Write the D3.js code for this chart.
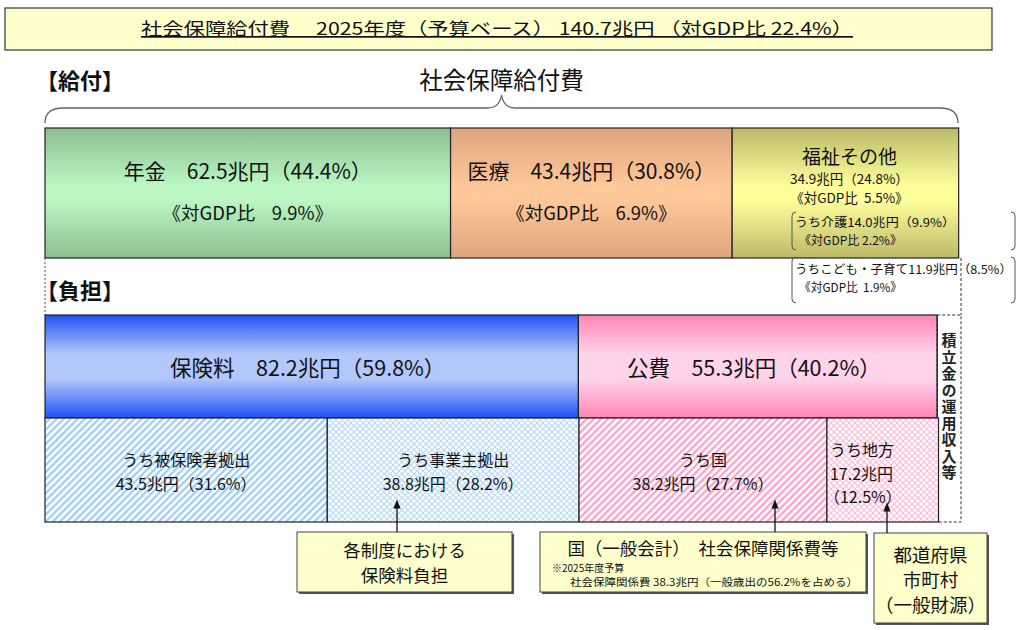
<!DOCTYPE html>
<html>
<head>
<meta charset="utf-8">
<script src="https://cdn.jsdelivr.net/npm/d3@7"></script>
<style>
  body { margin: 0; background: #fff; }
  svg { display: block; font-family: "Noto Sans CJK JP", "Noto Sans", sans-serif; }
</style>
</head>
<body>
<svg id="chart" width="1024" height="630"></svg>
<script>
// données
const total = 140.7;
const totalGdp = 22.4;

const benefitNames = ['年金', '医療', '福祉その他'];
const benefitValues = [62.5, 43.4, 34.9];
const benefitShares = [44.4, 30.8, 24.8];
const benefitGdp = [9.9, 6.9, 5.5];

const welfareSubNames = ['うち介護', 'うちこども・子育て'];
const welfareSubValues = [14.0, 11.9];
const welfareSubShares = [9.9, 8.5];
const welfareSubGdp = [2.2, 1.9];

const burdenNames = ['保険料', '公費'];
const burdenValues = [82.2, 55.3];
const burdenShares = [59.8, 40.2];

const subNames = ['うち被保険者拠出', 'うち事業主拠出', 'うち国', 'うち地方'];
const subValues = [43.5, 38.8, 38.2, 17.2];
const subShares = [31.6, 28.2, 27.7, 12.5];

const reserveLabel = '積立金の運用収入等';

const svg = d3.select('#chart');
const defs = svg.append('defs');

// échelle horizontale commune (兆円)
const x = d3.scaleLinear().domain([0, total]).range([45, 958]);

const SP = '\u3000';       // espace pleine largeur
const sp2 = '\u00a0\u00a0'; // petit espace

// cumuls
function cumul(values) {
  let acc = 0;
  return values.map(v => { const s = acc; acc += v; return { start: s, end: acc, value: v }; });
}

// dégradés verticaux
function gradient(id, edge, mid, a, b) {
  const g = defs.append('linearGradient').attr('id', id)
    .attr('x1', 0).attr('y1', 0).attr('x2', 0).attr('y2', 1);
  g.append('stop').attr('offset', 0).attr('stop-color', edge);
  g.append('stop').attr('offset', a).attr('stop-color', mid);
  g.append('stop').attr('offset', b).attr('stop-color', mid);
  g.append('stop').attr('offset', 1).attr('stop-color', edge);
}
gradient('gNenkin', '#8dbd92', '#bbf8c4', 0.45, 0.55);
gradient('gIryo', '#dca57e', '#ffc899', 0.45, 0.55);
gradient('gFukushi', '#bdb968', '#ffff9c', 0.45, 0.55);
gradient('gHoken', '#1f52f4', '#b3c7fb', 0.38, 0.62);
gradient('gKouhi', '#ff85b8', '#ffd3ea', 0.38, 0.62);

// motifs
function stripes(id, color) {
  const p = defs.append('pattern').attr('id', id)
    .attr('width', 5).attr('height', 5)
    .attr('patternUnits', 'userSpaceOnUse')
    .attr('patternTransform', 'rotate(45)');
  p.append('rect').attr('width', 5).attr('height', 5).attr('fill', '#fff');
  p.append('rect').attr('width', 2.3).attr('height', 5).attr('fill', color);
}
function cross(id, color) {
  const p = defs.append('pattern').attr('id', id)
    .attr('width', 6).attr('height', 6)
    .attr('patternUnits', 'userSpaceOnUse');
  p.append('rect').attr('width', 6).attr('height', 6).attr('fill', '#fff');
  p.append('path').attr('d', 'M0,0L6,6M6,0L0,6M-3,3L3,9M3,-3L9,3M-3,3L3,-3M3,9L9,3')
    .attr('stroke', color).attr('stroke-width', 1.1).attr('fill', 'none');
}
stripes('pStripeBlue', '#9dcdfb');
cross('pCrossBlue', '#b4d8fb');
stripes('pStripePink', '#ff9fca');
cross('pCrossPink', '#ffb8d8');

defs.append('marker').attr('id', 'arrow')
  .attr('viewBox', '0 0 10 10').attr('refX', 5).attr('refY', 5)
  .attr('markerWidth', 7).attr('markerHeight', 7).attr('orient', 'auto-start-reverse')
  .append('path').attr('d', 'M0,1L10,5L0,9Z').attr('fill', '#111');

const pct = v => v.toFixed(1);

// titre
svg.append('rect').attr('x', 5).attr('y', 8).attr('width', 987).attr('height', 42)
  .attr('fill', '#ffffcc').attr('stroke', '#333').attr('stroke-width', 1.2);
svg.append('text').attr('x', 497).attr('y', 35).attr('text-anchor', 'middle')
  .attr('font-size', 17).attr('text-decoration', 'underline').attr('fill', '#111')
  .attr('textLength', 712).attr('lengthAdjust', 'spacingAndGlyphs')
  .text('社会保障給付費　 2025年度（予算ベース） 140.7兆円 （対GDP比 ' + pct(totalGdp) + '%）');

// 【給付】
svg.append('text').attr('x', 45).attr('y', 89).attr('font-size', 22).attr('font-weight', 'bold')
  .attr('fill', '#111').attr('dx', -9).text('【給付】');
svg.append('text').attr('x', (x(0) + x(total)) / 2).attr('y', 89).attr('text-anchor', 'middle')
  .attr('font-size', 23.5).attr('fill', '#111').text('社会保障給付費');

// accolade
{
  const l = x(0), r = x(total), m = (l + r) / 2, y0 = 123, y1 = 108, yp = 95;
  svg.append('path')
    .attr('d', `M${l},${y0} Q${l},${y1} ${l + 18},${y1} L${m - 14},${y1} Q${m - 2},${y1} ${m},${yp} Q${m + 2},${y1} ${m + 14},${y1} L${r - 18},${y1} Q${r},${y1} ${r},${y0}`)
    .attr('fill', 'none').attr('stroke', '#666').attr('stroke-width', 1.3);
}

// blocs de prestations
const topY = 128, topH = 130;
const benefitFills = ['url(#gNenkin)', 'url(#gIryo)', 'url(#gFukushi)'];
const benefits = cumul(benefitValues);
svg.append('g').selectAll('rect').data(benefits).join('rect')
  .attr('x', d => x(d.start)).attr('y', topY)
  .attr('width', d => x(d.end) - x(d.start)).attr('height', topH)
  .attr('fill', (d, i) => benefitFills[i]).attr('stroke', '#222').attr('stroke-width', 1.2);

[0, 1].forEach(i => {
  const cx = (x(benefits[i].start) + x(benefits[i].end)) / 2;
  svg.append('text').attr('x', cx).attr('y', 179).attr('text-anchor', 'middle')
    .attr('font-size', 21).attr('fill', '#111')
    .text(benefitNames[i] + SP + pct(benefitValues[i]) + '兆円（' + pct(benefitShares[i]) + '%）');
  svg.append('text').attr('x', cx).attr('y', 220).attr('text-anchor', 'middle')
    .attr('font-size', 18.5).attr('fill', '#111')
    .text('《対GDP比' + sp2 + sp2 + pct(benefitGdp[i]) + '%》');
});

{
  const cx = (x(benefits[2].start) + x(benefits[2].end)) / 2;
  svg.append('text').attr('x', cx + 4).attr('y', 164).attr('text-anchor', 'middle')
    .attr('font-size', 19).attr('fill', '#111').text(benefitNames[2]);
  svg.append('text').attr('x', cx + 4).attr('y', 184).attr('text-anchor', 'middle')
    .attr('font-size', 13.5).attr('fill', '#111')
    .text(pct(benefitValues[2]) + '兆円（' + pct(benefitShares[2]) + '%）');
  svg.append('text').attr('x', cx + 4).attr('y', 203).attr('text-anchor', 'middle')
    .attr('font-size', 13.5).attr('fill', '#111')
    .text('《対GDP比' + sp2 + pct(benefitGdp[2]) + '%》');
}

// sous-détail du bien-être (crochets)
const subBoxes = [{ y: 212, h: 38 }, { y: 257, h: 46 }];
welfareSubNames.forEach((name, i) => {
  const b = subBoxes[i], l = 792, r = 1015, c = 4;
  svg.append('path')
    .attr('d', `M${l + c},${b.y} Q${l},${b.y} ${l},${b.y + c} L${l},${b.y + b.h - c} Q${l},${b.y + b.h} ${l + c},${b.y + b.h}`)
    .attr('fill', 'none').attr('stroke', '#555');
  svg.append('path')
    .attr('d', `M${r - c},${b.y} Q${r},${b.y} ${r},${b.y + c} L${r},${b.y + b.h - c} Q${r},${b.y + b.h} ${r - c},${b.y + b.h}`)
    .attr('fill', 'none').attr('stroke', '#555');
  const y1 = b.y + (i === 0 ? 15 : 17);
  svg.append('text').attr('x', 795).attr('y', y1).attr('font-size', 12).attr('fill', '#111')
    .attr('textLength', i === 0 ? 160 : 217).attr('lengthAdjust', 'spacingAndGlyphs')
    .text(name + pct(welfareSubValues[i]) + '兆円（' + pct(welfareSubShares[i]) + '%）');
  svg.append('text').attr('x', 799).attr('y', y1 + 17.6).attr('font-size', 12).attr('fill', '#111')
    .attr('textLength', i === 0 ? 103 : 103).attr('lengthAdjust', 'spacingAndGlyphs')
    .text('《対GDP比' + (i === 0 ? '\u00a0' : sp2) + pct(welfareSubGdp[i]) + '%》');
});

// lignes pointillées de liaison
svg.append('line').attr('x1', x(0)).attr('x2', x(0)).attr('y1', topY + topH).attr('y2', 315)
  .attr('stroke', '#555').attr('stroke-dasharray', '2,2');

// 【負担】
svg.append('text').attr('x', 45).attr('y', 299).attr('font-size', 22).attr('font-weight', 'bold')
  .attr('fill', '#111').attr('dx', -9).text('【負担】');

// blocs de financement
const midY = 315, midH = 103, lowY = 418, lowH = 104;
const burdens = cumul(burdenValues);
const burdenFills = ['url(#gHoken)', 'url(#gKouhi)'];
svg.append('g').selectAll('rect').data(burdens).join('rect')
  .attr('x', d => x(d.start)).attr('y', midY)
  .attr('width', d => x(d.end) - x(d.start)).attr('height', midH)
  .attr('fill', (d, i) => burdenFills[i]).attr('stroke', '#222').attr('stroke-width', 1.2);

burdens.forEach((d, i) => {
  svg.append('text').attr('x', (x(d.start) + x(d.end)) / 2 - 4).attr('y', 376).attr('text-anchor', 'middle')
    .attr('font-size', 21.5).attr('fill', '#111')
    .text(burdenNames[i] + SP + pct(burdenValues[i]) + '兆円（' + pct(burdenShares[i]) + '%）');
});

// 積立金の運用収入等
const reserveStart = d3.sum(burdenValues);
svg.append('rect').attr('x', x(reserveStart)).attr('y', midY)
  .attr('width', x(total) + 3 - x(reserveStart)).attr('height', midH + lowH)
  .attr('fill', '#fff').attr('stroke', '#333').attr('stroke-dasharray', '3,2');
svg.append('line').attr('x1', x(reserveStart)).attr('x2', x(reserveStart))
  .attr('y1', midY).attr('y2', lowY + lowH).attr('stroke', '#222').attr('stroke-width', 1.2);
svg.append('line').attr('x1', x(total) + 3).attr('x2', x(total) + 3).attr('y1', topY + topH).attr('y2', midY)
  .attr('stroke', '#333').attr('stroke-dasharray', '3,2');
svg.append('text')
  .attr('x', (x(reserveStart) + x(total) + 3) / 2).attr('y', 333)
  .style('writing-mode', 'vertical-rl').style('text-orientation', 'upright')
  .attr('letter-spacing', 1.5)
  .attr('font-size', 15).attr('font-weight', 'bold').attr('fill', '#222')
  .text(reserveLabel);

// sous-blocs
const subs = cumul(subValues);
const subFills = ['url(#pStripeBlue)', 'url(#pCrossBlue)', 'url(#pStripePink)', 'url(#pCrossPink)'];
svg.append('g').selectAll('rect').data(subs).join('rect')
  .attr('x', d => x(d.start)).attr('y', lowY)
  .attr('width', d => x(d.end) - x(d.start)).attr('height', lowH)
  .attr('fill', (d, i) => subFills[i]).attr('stroke', '#222').attr('stroke-width', 1.2);

subs.forEach((d, i) => {
  const cx = (x(d.start) + x(d.end)) / 2;
  if (i < 3) {
    svg.append('text').attr('x', cx).attr('y', 466).attr('text-anchor', 'middle')
      .attr('font-size', 16).attr('fill', '#111').text(subNames[i]);
    svg.append('text').attr('x', cx).attr('y', 489.5).attr('text-anchor', 'middle')
      .attr('font-size', 16).attr('fill', '#111')
      .text(pct(subValues[i]) + '兆円（' + pct(subShares[i]) + '%）');
  } else {
    [subNames[i], pct(subValues[i]) + '兆円', '（' + pct(subShares[i]) + '%）'].forEach((t, k) => {
      svg.append('text').attr('x', x(d.start) + 3).attr('y', 456 + k * 23.5).attr('dx', k === 2 ? -6 : 0)
        .attr('font-size', 16).attr('fill', '#111').text(t);
    });
  }
});

// encadrés
const callouts = [
  { x: 297, y: 532, w: 215, h: 60, lines: [['各制度における', 17.5, 557, 'middle'], ['保険料負担', 17.5, 582, 'middle']], ax: 397, ay: 504 },
  { x: 540, y: 532, w: 326, h: 60, lines: [['国（一般会計）' + SP + '社会保障関係費等', 17.5, 555, 'middle'], ['※2025年度予算', 10, 572, 'start', 552], ['社会保障関係費 38.3兆円（一般歳出の56.2%を占める）', 10.5, 586, 'start', 570, 288]], ax: 775, ay: 504 },
  { x: 874, y: 533, w: 113, h: 90, lines: [['都道府県', 18.5, 562, 'middle'], ['市町村', 18.5, 587, 'middle'], ['（一般財源）', 18.5, 612, 'middle']], ax: 887, ay: 507 }
];
callouts.forEach(c => {
  svg.append('rect').attr('x', c.x + 2).attr('y', c.y + 2).attr('width', c.w).attr('height', c.h).attr('fill', '#555');
  svg.append('rect').attr('x', c.x).attr('y', c.y).attr('width', c.w).attr('height', c.h)
    .attr('fill', '#ffffcc').attr('stroke', '#444');
  c.lines.forEach(([t, fs, y, anchor, lx, len]) => {
    const tx = svg.append('text').attr('x', anchor === 'middle' ? c.x + c.w / 2 : lx).attr('y', y)
      .attr('text-anchor', anchor).attr('font-size', fs).attr('fill', '#111').text(t);
    if (len) tx.attr('textLength', len).attr('lengthAdjust', 'spacingAndGlyphs');
  });
  svg.append('line').attr('x1', c.ax).attr('x2', c.ax).attr('y1', c.y).attr('y2', c.ay)
    .attr('stroke', '#111').attr('stroke-width', 1.3).attr('marker-end', 'url(#arrow)');
});
</script>
</body>
</html>
